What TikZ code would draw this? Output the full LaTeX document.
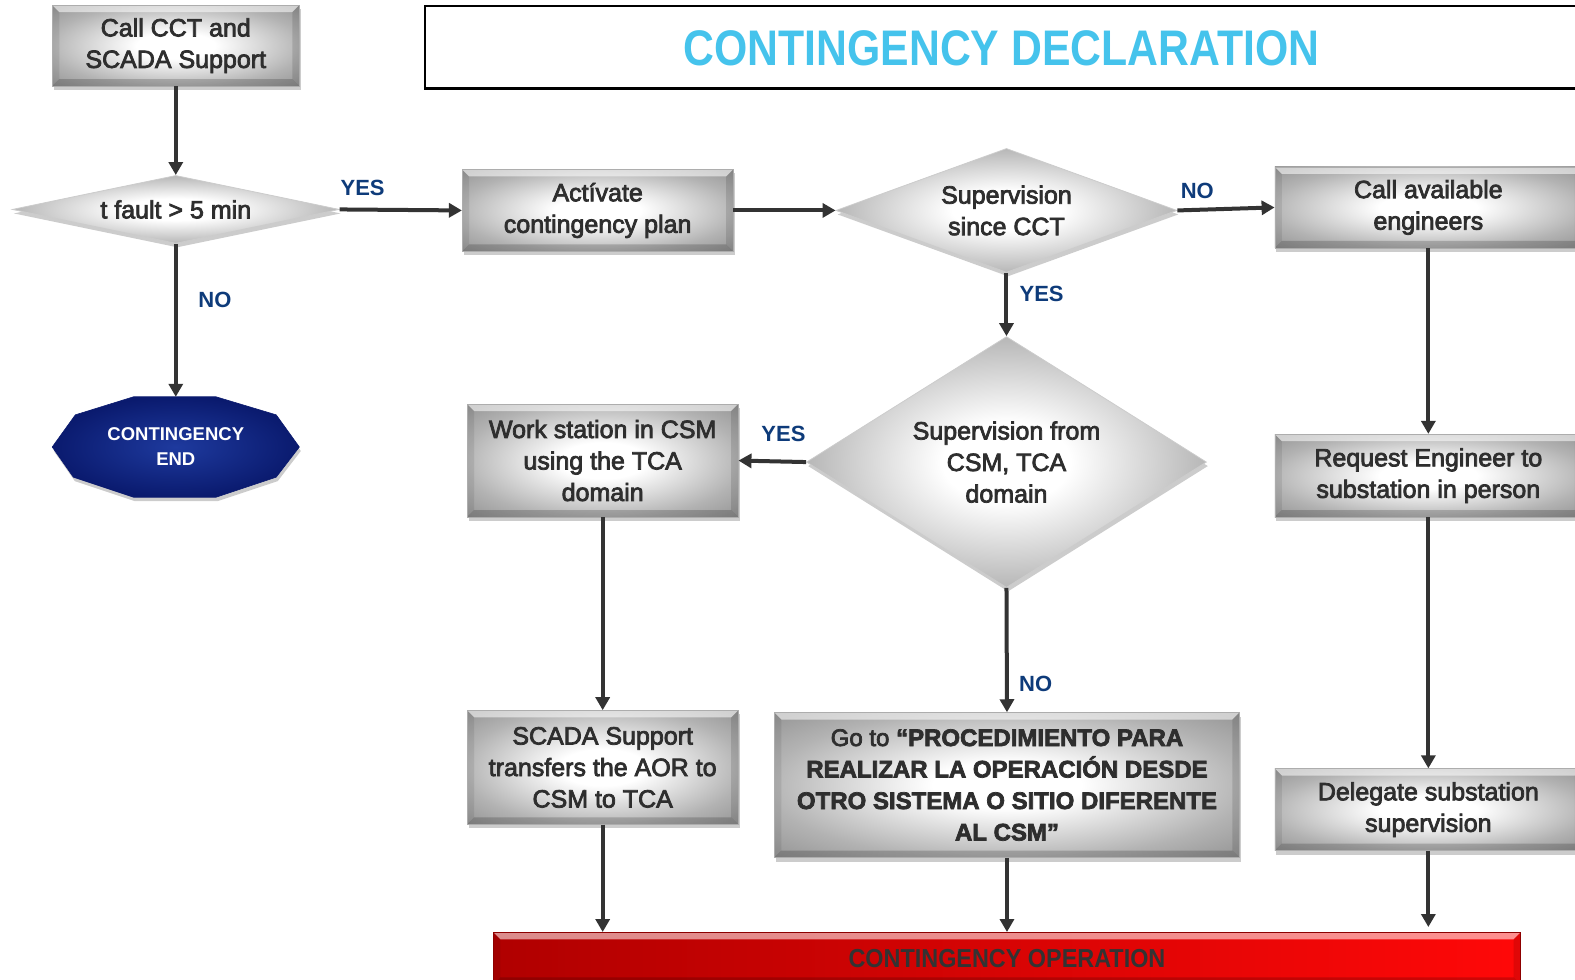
\documentclass[tikz,border=0pt]{standalone}
\usepackage{fontspec}
\setmainfont{Liberation Sans}
\newfontfamily\boxfont[FakeBold=3]{Liberation Sans}
\newfontfamily\titlefont[FakeStretch=0.855]{Liberation Sans}
\newfontfamily\barfont[FakeStretch=0.9]{Liberation Sans}
\usetikzlibrary{shapes.geometric,arrows.meta,shadows}

\definecolor{boxtext}{HTML}{2E2E2E}
\definecolor{arrowgray}{HTML}{333333}
\definecolor{lblblue}{HTML}{0E3B7A}
\definecolor{titlecyan}{HTML}{45C3EC}
\definecolor{endlight}{HTML}{1E3A9E}
\definecolor{enddark}{HTML}{0A1A6E}
\definecolor{barleft}{HTML}{B00000}
\definecolor{barright}{HTML}{FF0808}

% soft metallic glow: white core fading to grey at the rim
\pgfdeclareradialshading{metalglow}{\pgfpoint{0bp}{0bp}}{%
  color(0bp)=(white); color(8bp)=(white); color(26bp)=(black!30);
  color(42bp)=(black!50); color(72bp)=(black!60)}

% bevelled edges drawn inside a shaded box
\newcommand\bevelpic{%
  \fill[white,opacity=0.55]
    (path picture bounding box.north west) -- (path picture bounding box.north east)
    -- ([shift={(-7pt,-7pt)}]path picture bounding box.north east)
    -- ([shift={(7pt,-7pt)}]path picture bounding box.north west) -- cycle;
  \fill[black,opacity=0.18]
    (path picture bounding box.south west) -- (path picture bounding box.south east)
    -- ([shift={(-7pt,7pt)}]path picture bounding box.south east)
    -- ([shift={(7pt,7pt)}]path picture bounding box.south west) -- cycle;
  \fill[black,opacity=0.08]
    (path picture bounding box.north west) -- ([shift={(7pt,-7pt)}]path picture bounding box.north west)
    -- ([shift={(7pt,7pt)}]path picture bounding box.south west)
    -- (path picture bounding box.south west) -- cycle;
  \fill[black,opacity=0.12]
    (path picture bounding box.north east) -- ([shift={(-7pt,-7pt)}]path picture bounding box.north east)
    -- ([shift={(-7pt,7pt)}]path picture bounding box.south east)
    -- (path picture bounding box.south east) -- cycle;
}

\begin{document}
\begin{tikzpicture}[x=1.00446pt,y=-1.00446pt,
  softshadow/.style={drop shadow={shadow xshift=1.5pt, shadow yshift=-4pt, opacity=0.2, fill=black}},
  procbox/.style={rectangle, draw=black!32, line width=0.5pt, shading=metalglow,
    softshadow, path picture={\bevelpic}, font=\boxfont\fontsize{25}{31.5}\selectfont, text=boxtext,
    align=center, inner sep=0pt},
  decision/.style={diamond, draw=white!80!black, line width=0.8pt, shading=metalglow,
    softshadow, inner sep=0pt},
  dtext/.style={font=\boxfont\fontsize{25}{31.5}\selectfont, text=boxtext, align=center, inner sep=0pt},
  endshape/.style={draw=enddark, line width=0.6pt, inner color=endlight, outer color=enddark, softshadow},
  endtext/.style={font=\fontsize{18.5}{25}\selectfont\bfseries, text=white, align=center, inner sep=0pt},
  opbar/.style={rectangle, draw=barleft!80!black, line width=0.5pt, left color=barleft, right color=barright,
    path picture={\bevelpic}, font=\barfont\fontsize{26}{30}\selectfont\bfseries, text=arrowgray, inner sep=0pt},
  flow/.style={draw=arrowgray, line width=4pt, -{Triangle[length=13pt,width=14pt]}},
  lbl/.style={font=\fontsize{22}{24}\selectfont\bfseries, text=lblblue, inner sep=0pt},
]
\useasboundingbox (0,0) rectangle (1568,975.6);

% title banner
\draw[black, line width=2.5pt] (423,6) rectangle (1620,88);
\node[font=\titlefont\fontsize{50}{55}\selectfont\bfseries, text=titlecyan, inner sep=0pt] (title) at (997,48) {CONTINGENCY DECLARATION};

% left column
\node[procbox, minimum width=247pt, minimum height=81pt] (callcct) at (175,45.5) {Call CCT and\\SCADA Support};
\node[decision, minimum width=327pt, minimum height=68pt] (fault) at (175,208.5) {};
\node[dtext] (faulttext) at (fault.center) {t fault > 5 min};

\coordinate (endc) at (175,445);
\path[endshape, shift={(endc)}] (-42,-50) -- (40,-50) -- (100,-32) -- (123,0) -- (100,30)
  -- (40,50) -- (-42,50) -- (-102,30) -- (-123,0) -- (-100,-32) -- cycle;
\node[endtext, minimum width=247pt, minimum height=100pt] (endnode) at (endc) {CONTINGENCY\\END};

% middle columns
\node[procbox, minimum width=271pt, minimum height=82pt] (activate) at (595,209.5) {Actívate\\contingency plan};
\node[decision, minimum width=341pt, minimum height=124pt] (since) at (1002,209.5) {};
\node[dtext] (sincetext) at (since.center) {Supervision\\since CCT};
\node[decision, minimum width=400pt, minimum height=251pt] (from) at (1002,460) {};
\node[dtext] (fromtext) at (from.center) {Supervision from\\CSM, TCA\\domain};
\node[procbox, minimum width=271pt, minimum height=113pt] (work) at (600,458.5) {Work station in CSM\\using the TCA\\domain};
\node[procbox, minimum width=271pt, minimum height=114pt] (trans) at (600,764) {SCADA Support\\transfers the AOR to\\CSM to TCA};
\node[procbox, minimum width=465pt, minimum height=145pt, font=\boxfont\fontsize{24}{31.5}\selectfont] (goto) at (1002.5,781.5)
  {Go to \textbf{“PROCEDIMIENTO PARA}\\\textbf{REALIZAR LA OPERACIÓN DESDE}\\\textbf{OTRO SISTEMA O SITIO DIFERENTE}\\\textbf{AL CSM”}};

% right column
\node[procbox, minimum width=307pt, minimum height=81pt] (callav) at (1422,206.5) {Call available\\engineers};
\node[procbox, minimum width=307pt, minimum height=83pt] (request) at (1422,473.5) {Request Engineer to\\substation in person};
\node[procbox, minimum width=307pt, minimum height=82pt] (delegate) at (1422,806) {Delegate substation\\supervision};

% final state
\node[opbar, minimum width=1027pt, minimum height=52pt] (op) at (1002.5,954) {CONTINGENCY OPERATION};

% connectors
\draw[flow] (callcct.south) -- (fault.north);
\draw[flow] (fault.east) -- (activate.west);
\draw[flow] (fault.south) -- (endnode.north);
\draw[flow] (activate.east) -- (since.west);
\draw[flow] (since.east) -- (callav.west);
\draw[flow] (since.south) -- (from.north);
\draw[flow] (from.west) -- (work.east);
\draw[flow] (from.south) -- (goto.north);
\draw[flow] (callav.south) -- (request.north);
\draw[flow] (request.south) -- (delegate.north);
\draw[flow] (work.south) -- (trans.north);
\draw[flow] (trans.south) -- (trans.south |- op.north);
\draw[flow] (goto.south) -- (goto.south |- op.north);
\draw[flow, shorten >=5pt] (delegate.south) -- (delegate.south |- op.north);

% branch labels
\node[lbl] (yes1) at (361,187) {YES};
\node[lbl] (no1) at (214,299) {NO};
\node[lbl] (no2) at (1192,190) {NO};
\node[lbl] (yes2) at (1037,293) {YES};
\node[lbl] (yes3) at (780,432) {YES};
\node[lbl] (no3) at (1031,681) {NO};
\end{tikzpicture}
\end{document}
